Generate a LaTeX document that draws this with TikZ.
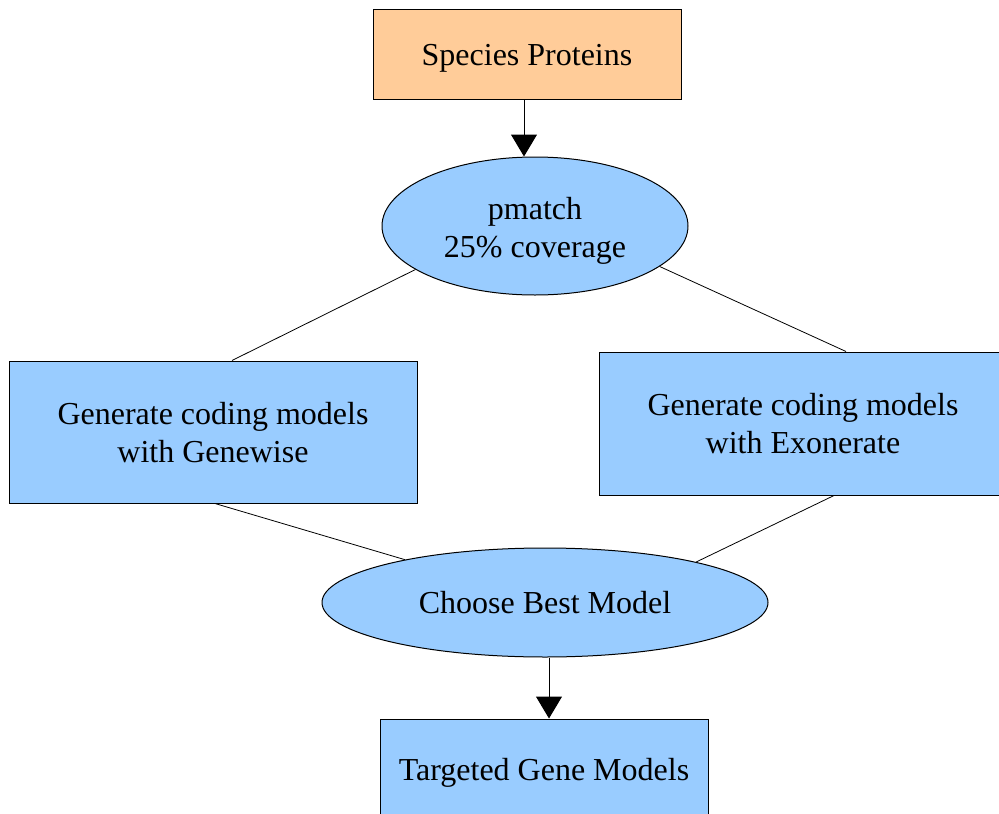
\documentclass[tikz,border=0pt]{standalone}
\usepackage{fontspec}
\setmainfont{Liberation Serif}
\usetikzlibrary{shapes.geometric,arrows.meta}
\definecolor{boxorange}{HTML}{FFCC99}
\definecolor{boxblue}{HTML}{99CCFF}
\begin{document}
\begin{tikzpicture}[x=1pt,y=-1pt,
  txt/.style={font=\fontsize{32}{38}\selectfont, align=center, inner sep=0pt, draw=none},
  rbox/.style={rectangle, draw=black, line width=1pt, inner sep=0pt},
  ebox/.style={ellipse, draw=black, line width=1pt, inner sep=0pt},
  link/.style={line width=0.8pt, draw=black},
  flow/.style={line width=1pt, draw=black, -{Triangle[width=26pt,length=22pt]}}]
\useasboundingbox (0,0) rectangle (999,814);
\begin{scope}
\clip (0,0) rectangle (999,814);
\node[rbox, fill=boxorange, minimum width=308pt, minimum height=90pt] (sp) at (527,54) {};
\node[txt] (spt) at ([yshift=-4pt]sp.center) {Species Proteins};
\node[ebox, fill=boxblue, minimum width=306pt, minimum height=138pt] (pm) at (535,226) {};
\node[txt] (pmt) at ([yshift=-5pt]pm.center) {pmatch\\25\% coverage};
\node[rbox, fill=boxblue, minimum width=408pt, minimum height=142pt] (gw) at (213,432) {};
\node[txt] (gwt) at ([yshift=-1pt]gw.center) {Generate coding models\\with Genewise};
\node[rbox, fill=boxblue, minimum width=402pt, minimum height=143pt] (ex) at (800,423.5) {};
\node[txt] (ext) at ([xshift=3pt]ex.center) {Generate coding models\\with Exonerate};
\node[ebox, fill=boxblue, minimum width=446pt, minimum height=109pt] (cb) at (545,602.5) {};
\node[txt] (cbt) at (cb.center) {Choose Best Model};
\node[rbox, fill=boxblue, minimum width=328pt, minimum height=102pt] (tg) at (544,770) {};
\node[txt] (tgt) at ([yshift=-3pt]tg.center) {Targeted Gene Models};
\coordinate (spout) at ([xshift=-3pt]sp.south);
\coordinate (pmin) at (spout |- pm.north);
\draw[flow] (spout) -- (pmin);
\draw[link] (pm.200.7) -- ([xshift=19pt]gw.north);
\draw[link] (pm.342.2) -- ([xshift=46pt]ex.north);
\draw[link] ([xshift=2pt]gw.south) -- (cb.163.6);
\draw[link] ([xshift=34pt]ex.south) -- (cb.15.8);
\coordinate (cbout) at ([xshift=4pt]cb.south);
\coordinate (tgin) at (cbout |- tg.north);
\draw[flow] (cbout) -- (tgin);
\end{scope}
\end{tikzpicture}
\end{document}
